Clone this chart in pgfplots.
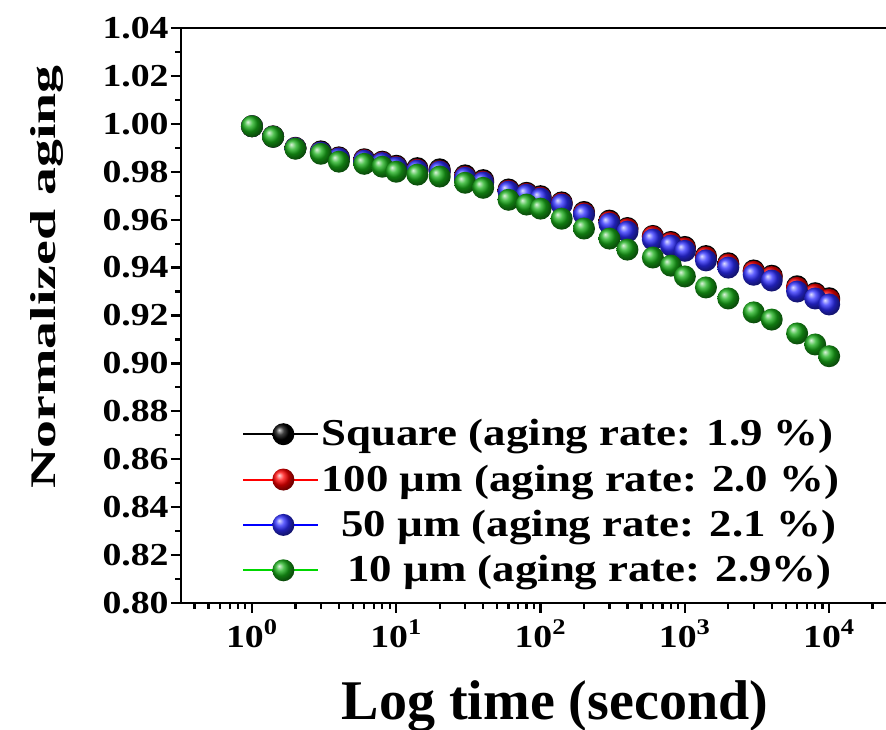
\documentclass[border=0pt]{standalone}
\usepackage{fontspec}
\setmainfont{Liberation Serif}
\newfontfamily\tickfont{Liberation Serif}[FakeStretch=1.18]
\newfontfamily\legfont{Liberation Serif}[FakeStretch=1.18]
\newfontfamily\ylabfont{Liberation Serif}[FakeStretch=1.55]
\usepackage{pgfplots}
\pgfplotsset{compat=1.18}
\usepackage{pgfplotstable}

\definecolor{lgreen}{RGB}{0,215,0}
\definecolor{bgreen}{RGB}{25,175,25}
\definecolor{bblue}{RGB}{45,45,255}

% time (s), Square, 100 um, 50 um, 10 um
\pgfplotstableread{
t      sq      r100    r50     r10
1      0.9990  0.9990  0.9990  0.9990
1.4    0.9948  0.9946  0.9946  0.9946
2      0.9900  0.9898  0.9898  0.9896
3      0.9885  0.9880  0.9880  0.9875
4      0.9860  0.9856  0.9855  0.9842
6      0.9852  0.9848  0.9846  0.9833
8      0.9842  0.9838  0.9836  0.9821
10     0.9825  0.9820  0.9818  0.9800
14     0.9815  0.9808  0.9805  0.9788
20     0.9810  0.9802  0.9800  0.9780
30     0.9785  0.9778  0.9775  0.9754
40     0.9765  0.9758  0.9755  0.9733
60     0.9726  0.9720  0.9717  0.9683
80     0.9712  0.9707  0.9704  0.9663
100    0.9698  0.9692  0.9688  0.9646
140    0.9672  0.9667  0.9663  0.9604
200    0.9632  0.9626  0.9621  0.9563
300    0.9596  0.9590  0.9583  0.9521
400    0.9565  0.9560  0.9550  0.9475
600    0.9532  0.9528  0.9517  0.9442
800    0.9507  0.9502  0.9492  0.9408
1000   0.9486  0.9480  0.9470  0.9363
1400   0.9448  0.9442  0.9430  0.9317
2000   0.9418  0.9412  0.9400  0.9271
3000   0.9388  0.9382  0.9370  0.9213
4000   0.9366  0.9360  0.9346  0.9183
6000   0.9322  0.9315  0.9300  0.9125
8000   0.9293  0.9287  0.9271  0.9079
10000  0.9272  0.9265  0.9246  0.9030
}\agingdata

\begin{document}
\begin{tikzpicture}
\begin{axis}[
  scale only axis,
  width=352.5pt, height=287.5pt,
  xmode=log,
  xmin=0.3221, xmax=24770,
  ymin=0.80, ymax=1.04,
  clip=false,
  axis x line*=bottom, axis y line*=left,
  axis line style={-, line width=1.4pt, black},
  tick align=outside,
  major tick length=5pt, minor tick length=2.8pt,
  every tick/.style={black, line width=1.1pt},
  xtick={1,10,100,1000,10000},
  xticklabels={10\textsuperscript{0},10\textsuperscript{1},10\textsuperscript{2},10\textsuperscript{3},10\textsuperscript{4}},
  minor xtick={0.4,0.5,0.6,0.7,0.8,0.9,2,3,4,5,6,7,8,9,20,30,40,50,60,70,80,90,200,300,400,500,600,700,800,900,2000,3000,4000,5000,6000,7000,8000,9000,20000},
  ytick={0.80,0.82,0.84,0.86,0.88,0.90,0.92,0.94,0.96,0.98,1.00,1.02,1.04},
  yticklabels={0.80,0.82,0.84,0.86,0.88,0.90,0.92,0.94,0.96,0.98,1.00,1.02,1.04},
  minor ytick={0.81,0.83,0.85,0.87,0.89,0.91,0.93,0.95,0.97,0.99,1.01,1.03},
  xticklabel style={font=\tickfont\bfseries\fontsize{16}{16}\selectfont},
  yticklabel style={font=\tickfont\bfseries\fontsize{16}{16}\selectfont, inner sep=1pt},
  xlabel={Log time (second)},
  xlabel style={font=\bfseries\fontsize{28}{28}\selectfont, at={(axis description cs:0.5305,-0.2035)}, anchor=base},
  ylabel={Normalized aging},
  ylabel style={font=\ylabfont\bfseries\fontsize{18}{18}\selectfont, at={(axis description cs:-0.1787,0.567)}, anchor=base, rotate=0},
  legend style={at={(axis description cs:0.0865,0.3198)}, anchor=north west,
    draw=none, fill=none, inner sep=0pt, row sep=8pt,
    font=\legfont\bfseries\fontsize{19}{22}\selectfont,
    nodes={inner xsep=1pt, inner ysep=0pt}},
  legend cell align=left,
  legend image code/.code={\draw[mark repeat=2, mark phase=2, #1] plot coordinates {(0pt,0pt) (20pt,0pt) (37.5pt,0pt)};},
  ballmark/.style={mark=ball, mark size=5.5pt, mark options={ball color=#1, draw opacity=0}},
]
% the measured points (balls only)
\addplot[only marks, ballmark=black, forget plot] table[x=t, y=sq] {\agingdata};
\addplot[only marks, ballmark=red, forget plot] table[x=t, y=r100] {\agingdata};
\addplot[only marks, ballmark=bblue, forget plot] table[x=t, y=r50] {\agingdata};
\addplot[only marks, ballmark=bgreen, forget plot] table[x=t, y=r10] {\agingdata};
% legend samples: line with a ball on it
\addlegendimage{black, line width=1pt, ballmark=black}
\addlegendentry{Square (aging rate: 1.9 \%)}
\addlegendimage{red, line width=1pt, ballmark=red}
\addlegendentry{100 µm (aging rate: 2.0 \%)}
\addlegendimage{blue, line width=1pt, ballmark=bblue}
\addlegendentry{\hspace*{10pt}50 µm (aging rate: 2.1 \%)}
\addlegendimage{lgreen, line width=1pt, ballmark=bgreen}
\addlegendentry{\hspace*{13pt}10 µm (aging rate: 2.9\%)}
\coordinate (ll) at (rel axis cs:0,0);
\coordinate (ur) at (rel axis cs:1,1);
\draw[line width=1.4pt, black] (rel axis cs:0,1) -- (rel axis cs:1,1);
\end{axis}
\pgfresetboundingbox
\path[use as bounding box] ([shift={(-90.5pt,-63.5pt)}]ll) rectangle ([shift={(0pt,14pt)}]ur);
\end{tikzpicture}
\end{document}
